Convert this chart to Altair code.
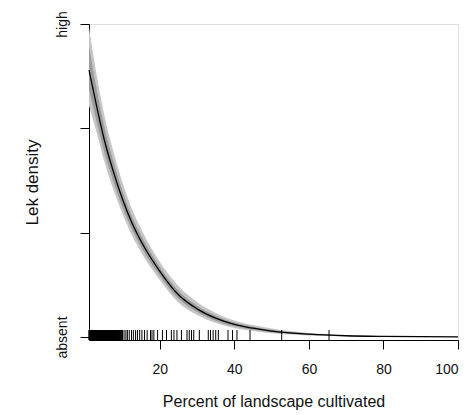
import altair as alt
import pandas as pd

x_vals = [1, 3, 5, 7.5, 10, 12.5, 15, 20, 25, 30, 35, 40, 45, 50, 60, 70, 80, 90, 100]
fit = [0.853, 0.74, 0.635, 0.53, 0.44, 0.365, 0.305, 0.21, 0.135, 0.09, 0.06, 0.04,
       0.028, 0.019, 0.009, 0.004, 0.002, 0.001, 0.0005]
band_upper = [0.99, 0.84, 0.715, 0.595, 0.493, 0.41, 0.345, 0.24, 0.163, 0.112, 0.077, 0.053,
              0.038, 0.027, 0.013, 0.006, 0.003, 0.0015, 0.0008]
band_lower = [0.74, 0.655, 0.565, 0.472, 0.393, 0.325, 0.27, 0.182, 0.11, 0.07, 0.045, 0.029,
              0.019, 0.012, 0.005, 0.002, 0.001, 0.0005, 0.0002]
core_upper = [0.93, 0.795, 0.677, 0.563, 0.466, 0.386, 0.324, 0.224, 0.148, 0.1, 0.068, 0.046,
              0.033, 0.023, 0.011, 0.005, 0.0025, 0.0012, 0.0006]
core_lower = [0.79, 0.69, 0.595, 0.498, 0.414, 0.345, 0.287, 0.196, 0.122, 0.08, 0.052, 0.034,
              0.023, 0.015, 0.007, 0.003, 0.0015, 0.0008, 0.0004]

# rug of observed percent cultivated
rug_x = [1.0, 1.05, 1.12, 1.2, 1.28, 1.35, 1.42, 1.5, 1.58, 1.65, 1.72, 1.8, 1.88, 1.95,
         2.02, 2.1, 2.18, 2.25, 2.33, 2.4, 2.48, 2.55, 2.63, 2.7, 2.78, 2.85, 2.93, 3.0,
         3.08, 3.15, 3.23, 3.3, 3.38, 3.45, 3.53, 3.6, 3.68, 3.75, 3.83, 3.9, 3.98, 4.05,
         4.13, 4.2, 4.28, 4.35, 4.43, 4.5, 4.58, 4.65, 4.73, 4.8, 4.88, 4.95, 5.03, 5.1,
         5.18, 5.25, 5.33, 5.4, 5.48, 5.55, 5.63, 5.7, 5.8, 5.9, 6.0, 6.1, 6.2, 6.3, 6.4,
         6.5, 6.6, 6.7, 6.8, 6.9, 7.0, 7.1, 7.2, 7.3, 7.4, 7.5, 7.6, 7.7, 7.8, 7.9, 8.0,
         8.12, 8.25, 8.37, 8.5, 8.62, 8.75, 8.9, 9.05, 9.2, 9.35, 9.5, 9.65, 9.8, 10.0,
         10.4, 10.9, 11.3, 11.8, 12.4, 12.9, 13.5, 14.0, 14.6, 15.2, 15.9, 16.6,
         17.5, 17.9, 18.4, 19.4, 20.7, 21.8, 23.1, 23.8, 24.6, 25.8, 27.3, 27.9, 28.5,
         29.1, 30.6, 33.0, 33.6, 34.3, 35.0, 35.7, 38.3, 39.5, 40.7, 44.2, 52.7, 65.4]

y_ticks = [0, 1 / 3, 2 / 3, 1]
x_ticks = [20, 40, 60, 80, 100]

curve_df = pd.DataFrame({"x": x_vals, "fit": fit, "up": band_upper, "lo": band_lower,
                         "cu": core_upper, "cl": core_lower})
rug_df = pd.DataFrame({"x": rug_x})

xscale = alt.Scale(domain=[1, 100], nice=False, zero=False)
yscale = alt.Scale(domain=[-0.0096, 1], nice=False, zero=False)

xaxis = alt.Axis(values=x_ticks, title="Percent of landscape cultivated", grid=False,
                 tickSize=9, labelPadding=13, labelFontSize=14, titleFontSize=16,
                 titleFontWeight="normal", titlePadding=17, domainColor="black",
                 tickColor="black", labelColor="#111", titleColor="#111")
yaxis = alt.Axis(values=y_ticks, title="Lek density", grid=False, tickSize=9,
                 labelExpr="datum.value == 0 ? 'absent' : (datum.value > 0.99 ? 'high' : '')",
                 labelAngle=270, labelAlign="center", labelBaseline="bottom",
                 labelPadding=11, labelFontSize=14, titleFontSize=17,
                 titleFontWeight="normal", titlePadding=14, domainColor="black",
                 tickColor="black", labelColor="#111", titleColor="#111")

base = alt.Chart(curve_df)

outer = base.mark_area(color="#c6c6c6", interpolate="monotone").encode(
    x=alt.X("x:Q", scale=xscale, axis=xaxis),
    y=alt.Y("up:Q", scale=yscale, axis=yaxis),
    y2="lo:Q",
)
core = base.mark_area(color="#9c9c9c", interpolate="monotone").encode(
    x=alt.X("x:Q", scale=xscale),
    y=alt.Y("cu:Q", scale=yscale),
    y2="cl:Q",
)
line = base.mark_line(color="black", strokeWidth=1.3, interpolate="monotone").encode(
    x=alt.X("x:Q", scale=xscale),
    y=alt.Y("fit:Q", scale=yscale),
)
rug = alt.Chart(rug_df).mark_rule(color="black", strokeWidth=1).encode(
    x=alt.X("x:Q", scale=xscale),
    y=alt.value(306),
    y2=alt.value(316),
)

chart = (
    alt.layer(outer, core, rug, line)
    .properties(width=369, height=316,
                autosize=alt.AutoSizeParams(type="none"),
                padding={"left": 81, "top": 16, "right": 6, "bottom": 70})
    .configure_view(stroke=None)
    .configure(font="Liberation Sans")
)

chart.save("out.html", embed_options={"renderer": "svg", "actions": False})
